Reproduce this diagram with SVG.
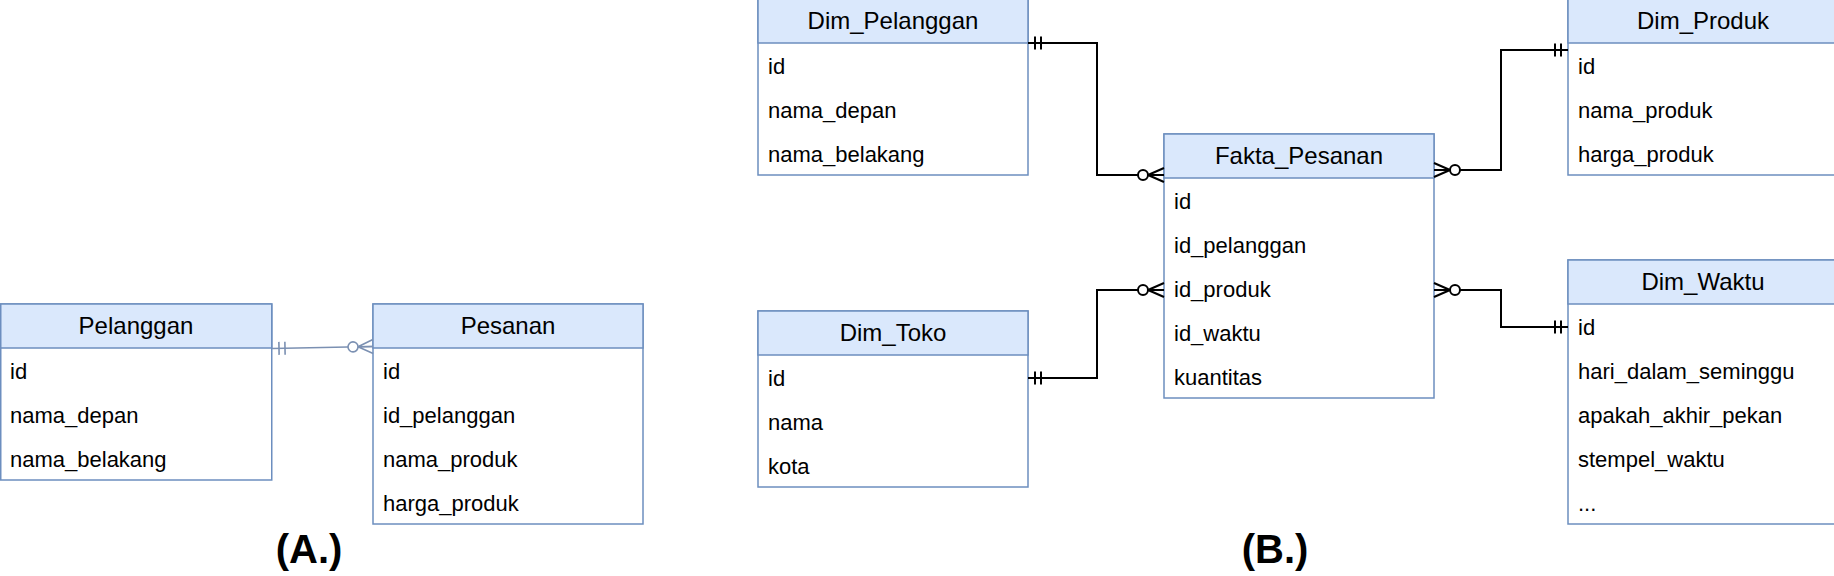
<svg xmlns="http://www.w3.org/2000/svg" width="1834" height="576" viewBox="0 0 1834 576">
<style>
.box{fill:#ffffff;stroke:#6c8ebf;stroke-width:1.5}
.hdr{fill:#dae8fc;stroke:#6c8ebf;stroke-width:1.5}
.title{font-family:"Liberation Sans",Arial,sans-serif;font-size:24px;fill:#000;text-anchor:middle}
.row{font-family:"Liberation Sans",Arial,sans-serif;font-size:22px;fill:#000}
.lbl{font-family:"Liberation Sans",Arial,sans-serif;font-size:40px;font-weight:bold;fill:#000;text-anchor:middle}
.conB{fill:none;stroke:#000;stroke-width:2}
.conA{fill:none;stroke:#7b90b2;stroke-width:1.6}
</style>
<defs>
<marker id="oneB" markerUnits="userSpaceOnUse" markerWidth="1" markerHeight="1" refX="0" refY="0" orient="auto-start-reverse" overflow="visible">
<path d="M-7,-6.5 V6.5 M-13,-6.5 V6.5" fill="none" stroke="#000" stroke-width="2"/>
</marker>
<marker id="manyB" markerUnits="userSpaceOnUse" markerWidth="1" markerHeight="1" refX="0" refY="0" orient="auto-start-reverse" overflow="visible">
<path d="M-16,0 L0,-7 M-16,0 L0,7 M-16,0 L0,0" fill="none" stroke="#000" stroke-width="2"/>
<circle cx="-21" cy="0" r="5" fill="#fff" stroke="#000" stroke-width="2"/>
</marker>
<marker id="oneA" markerUnits="userSpaceOnUse" markerWidth="1" markerHeight="1" refX="0" refY="0" orient="auto-start-reverse" overflow="visible">
<path d="M-7,-6.5 V6.5 M-13,-6.5 V6.5" fill="none" stroke="#7b90b2" stroke-width="1.6"/>
</marker>
<marker id="manyA" markerUnits="userSpaceOnUse" markerWidth="1" markerHeight="1" refX="0" refY="0" orient="auto-start-reverse" overflow="visible">
<path d="M-15,0 L0,-7 M-15,0 L0,7 M-15,0 L0,0" fill="none" stroke="#7b90b2" stroke-width="1.6"/>
<circle cx="-20" cy="0" r="5" fill="#fff" stroke="#7b90b2" stroke-width="1.6"/>
</marker>
</defs>
<rect width="1834" height="576" fill="#ffffff"/>

<g id="pelanggan">
<rect class="box" x="0.75" y="304" width="271" height="176"/>
<rect class="hdr" x="0.75" y="304" width="271" height="44"/>
<text class="title" x="136" y="334">Pelanggan</text>
<text class="row" x="10" y="379">id</text>
<text class="row" x="10" y="423">nama_depan</text>
<text class="row" x="10" y="467">nama_belakang</text>
</g>

<g id="pesanan">
<rect class="box" x="373" y="304" width="270" height="220"/>
<rect class="hdr" x="373" y="304" width="270" height="44"/>
<text class="title" x="508" y="334">Pesanan</text>
<text class="row" x="383" y="379">id</text>
<text class="row" x="383" y="423">id_pelanggan</text>
<text class="row" x="383" y="467">nama_produk</text>
<text class="row" x="383" y="511">harga_produk</text>
</g>

<g id="dim_pelanggan">
<rect class="box" x="758" y="-1" width="270" height="176"/>
<rect class="hdr" x="758" y="-1" width="270" height="44"/>
<text class="title" x="893" y="29">Dim_Pelanggan</text>
<text class="row" x="768" y="74">id</text>
<text class="row" x="768" y="118">nama_depan</text>
<text class="row" x="768" y="162">nama_belakang</text>
</g>

<g id="fakta_pesanan">
<rect class="box" x="1164" y="134" width="270" height="264"/>
<rect class="hdr" x="1164" y="134" width="270" height="44"/>
<text class="title" x="1299" y="164">Fakta_Pesanan</text>
<text class="row" x="1174" y="209">id</text>
<text class="row" x="1174" y="253">id_pelanggan</text>
<text class="row" x="1174" y="297">id_produk</text>
<text class="row" x="1174" y="341">id_waktu</text>
<text class="row" x="1174" y="385">kuantitas</text>
</g>

<g id="dim_toko">
<rect class="box" x="758" y="311" width="270" height="176"/>
<rect class="hdr" x="758" y="311" width="270" height="44"/>
<text class="title" x="893" y="341">Dim_Toko</text>
<text class="row" x="768" y="386">id</text>
<text class="row" x="768" y="430">nama</text>
<text class="row" x="768" y="474">kota</text>
</g>

<g id="dim_produk">
<rect class="box" x="1568" y="-1" width="270" height="176"/>
<rect class="hdr" x="1568" y="-1" width="270" height="44"/>
<text class="title" x="1703" y="29">Dim_Produk</text>
<text class="row" x="1578" y="74">id</text>
<text class="row" x="1578" y="118">nama_produk</text>
<text class="row" x="1578" y="162">harga_produk</text>
</g>

<g id="dim_waktu">
<rect class="box" x="1568" y="260" width="270" height="264"/>
<rect class="hdr" x="1568" y="260" width="270" height="44"/>
<text class="title" x="1703" y="290">Dim_Waktu</text>
<text class="row" x="1578" y="335">id</text>
<text class="row" x="1578" y="379">hari_dalam_seminggu</text>
<text class="row" x="1578" y="423">apakah_akhir_pekan</text>
<text class="row" x="1578" y="467">stempel_waktu</text>
<text class="row" x="1578" y="511">...</text>
</g>

<g id="connectors">
<path class="conA" d="M272,348.5 L373,346.5" marker-start="url(#oneA)" marker-end="url(#manyA)"/>
<path class="conB" d="M1028,43 H1097 V175 H1164" marker-start="url(#oneB)" marker-end="url(#manyB)"/>
<path class="conB" d="M1028,378 H1097 V290 H1164" marker-start="url(#oneB)" marker-end="url(#manyB)"/>
<path class="conB" d="M1434,170 H1501 V50 H1568" marker-start="url(#manyB)" marker-end="url(#oneB)"/>
<path class="conB" d="M1434,290 H1501 V327 H1568" marker-start="url(#manyB)" marker-end="url(#oneB)"/>
</g>

<g id="labels">
<text class="lbl" x="309" y="563">(A.)</text>
<text class="lbl" x="1275" y="563">(B.)</text>
</g>
</svg>
